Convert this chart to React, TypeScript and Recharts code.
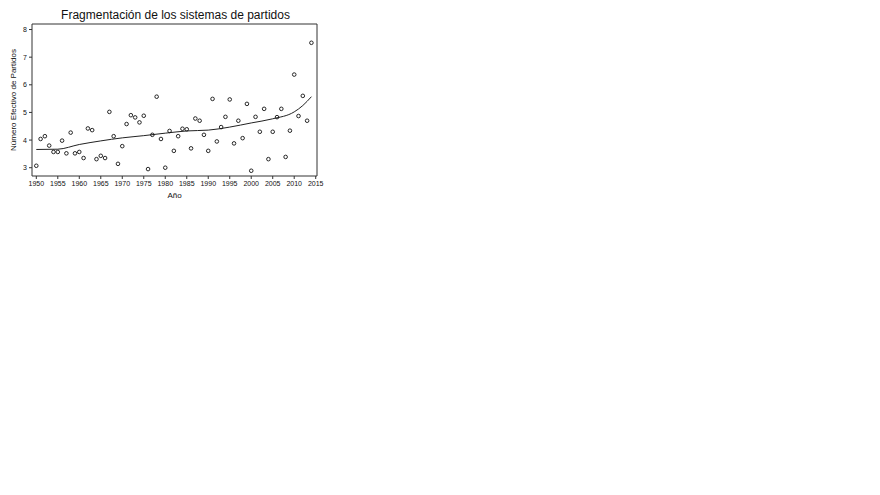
import { ComposedChart, Scatter, Line, XAxis, YAxis, ReferenceLine } from "recharts";

const years = [
  1950, 1951, 1952, 1953, 1954, 1955, 1956, 1957, 1958, 1959,
  1960, 1961, 1962, 1963, 1964, 1965, 1966, 1967, 1968, 1969,
  1970, 1971, 1972, 1973, 1974, 1975, 1976, 1977, 1978, 1979,
  1980, 1981, 1982, 1983, 1984, 1985, 1986, 1987, 1988, 1989,
  1990, 1991, 1992, 1993, 1994, 1995, 1996, 1997, 1998, 1999,
  2000, 2001, 2002, 2003, 2004, 2005, 2006, 2007, 2008, 2009,
  2010, 2011, 2012, 2013, 2014,
];

const nep = [
  3.07, 4.04, 4.14, 3.8, 3.57, 3.57, 3.98, 3.52, 4.27, 3.52,
  3.57, 3.35, 4.42, 4.36, 3.31, 3.43, 3.35, 5.02, 4.14, 3.14,
  3.78, 4.58, 4.9, 4.82, 4.64, 4.88, 2.95, 4.19, 5.57, 4.04,
  3.0, 4.33, 3.61, 4.14, 4.41, 4.39, 3.7, 4.78, 4.7, 4.19,
  3.61, 5.49, 3.95, 4.47, 4.84, 5.47, 3.88, 4.7, 4.07, 5.31,
  2.89, 4.84, 4.3, 5.13, 3.31, 4.3, 4.83, 5.13, 3.39, 4.34,
  6.37, 4.87, 5.6, 4.7, 7.52,
];

// suavizado (lowess)
const fitYears = [1950, 1955, 1960, 1965, 1970, 1975, 1980, 1985, 1990, 1995, 2000, 2005, 2010, 2012, 2014];
const fitValues = [3.66, 3.67, 3.84, 3.97, 4.08, 4.16, 4.25, 4.33, 4.36, 4.47, 4.62, 4.77, 5.02, 5.25, 5.57];

const xTicks = [1950, 1955, 1960, 1965, 1970, 1975, 1980, 1985, 1990, 1995, 2000, 2005, 2010, 2015];
const yTicks = [3, 4, 5, 6, 7, 8];
const xDomain = [1949, 2015.3];
const yDomain = [2.7, 8.2];

const rows = years.map((year, i) => {
  const k = fitYears.indexOf(year);
  return { year, nep: nep[i], fit: k >= 0 ? fitValues[k] : null };
});

const font = "'Liberation Sans', Arial, sans-serif";
const axisColor = "#333";

const Dot = (props: any) => (
  <circle cx={props.cx} cy={props.cy} r={1.8} fill="none" stroke="#111" strokeWidth={0.9} />
);

export default function App() {
  return (
    <div style={{ position: "absolute", left: 0, top: 0, width: 880, height: 495, background: "#fff", fontFamily: font }}>
      <div
        style={{
          position: "absolute",
          left: 0,
          width: 351,
          top: 8,
          textAlign: "center",
          fontSize: 12,
          color: "#111",
          lineHeight: "14px",
        }}
      >
        Fragmentación de los sistemas de partidos
      </div>
      <ComposedChart
        width={330}
        height={200}
        data={rows}
        margin={{ top: 24, right: 13, bottom: 0, left: 0 }}
        style={{ position: "absolute", left: 0, top: 0 }}
      >
        <XAxis
          dataKey="year"
          type="number"
          domain={xDomain}
          ticks={xTicks}
          allowDataOverflow
          height={24}
          tickSize={3}
          tickMargin={2}
          stroke={axisColor}
          tick={{ fontSize: 7, fill: "#111", fontFamily: font }}
          interval={0}
          label={{ value: "Año", position: "insideBottom", offset: 2, fontSize: 8, fill: "#111", fontFamily: font }}
        />
        <YAxis
          type="number"
          domain={yDomain}
          ticks={yTicks}
          allowDataOverflow
          width={32}
          tickSize={3}
          tickMargin={2}
          stroke={axisColor}
          tick={{ fontSize: 7, fill: "#111", fontFamily: font }}
          label={{
            value: "Número Efectivo de Partidos",
            angle: -90,
            position: "insideLeft",
            offset: 13,
            fontSize: 8,
            fill: "#111",
            fontFamily: font,
            style: { textAnchor: "middle" },
          }}
        />
        {/* marco superior y derecho */}
        <ReferenceLine y={yDomain[1]} stroke={axisColor} strokeWidth={1} />
        <ReferenceLine x={xDomain[1]} stroke={axisColor} strokeWidth={1} />
        <Line
          dataKey="fit"
          type="monotone"
          connectNulls
          dot={false}
          activeDot={false}
          stroke="#222"
          strokeWidth={1}
          isAnimationActive={false}
        />
        <Scatter dataKey="nep" shape={Dot} isAnimationActive={false} />
      </ComposedChart>
    </div>
  );
}
